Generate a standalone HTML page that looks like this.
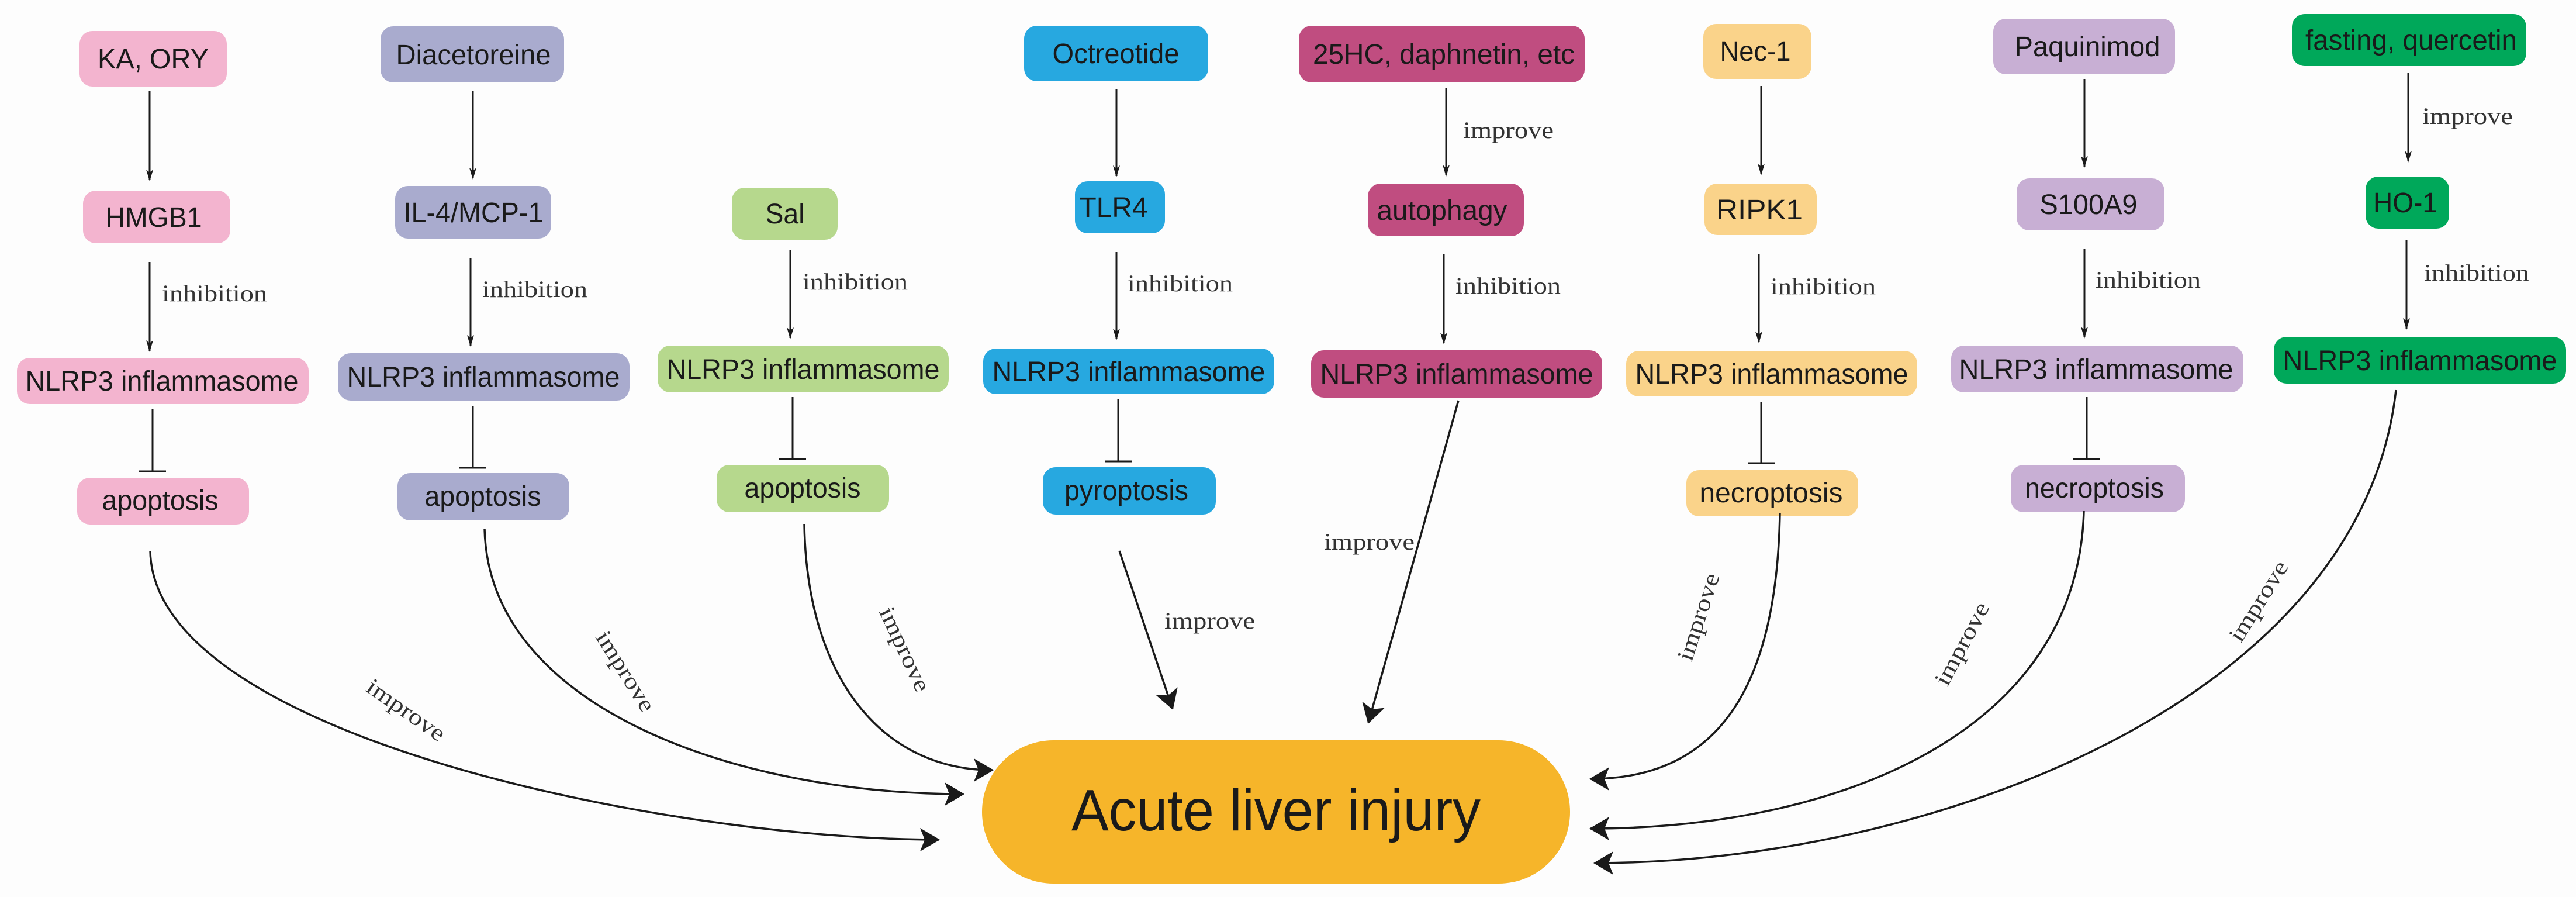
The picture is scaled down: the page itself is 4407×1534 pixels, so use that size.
<!DOCTYPE html>
<html><head><meta charset="utf-8"><style>
html,body{margin:0;padding:0;background:#fff;}
svg{display:block;}
.n{font-family:"Liberation Sans",Arial,sans-serif;font-size:48px;fill:#1a1a1a;text-anchor:middle;}
.l{font-family:"Liberation Serif",serif;font-size:40px;fill:#333;}
.ln{stroke:#1a1a1a;stroke-width:3;fill:none;}
.cv{stroke:#1a1a1a;stroke-width:3.5;fill:none;}
</style></head><body>
<svg width="4407" height="1534" viewBox="0 0 4407 1534" xmlns="http://www.w3.org/2000/svg">
<defs>
<marker id="a" markerUnits="userSpaceOnUse" markerWidth="20" markerHeight="30" refX="18" refY="7" orient="auto" viewBox="0 0 20 14">
<path d="M0,1 L20,7 L0,13 L5,7 Z" fill="#1a1a1a"/></marker>
<marker id="b" markerUnits="userSpaceOnUse" markerWidth="34" markerHeight="40" refX="32" refY="20" orient="auto" viewBox="0 0 34 40">
<path d="M0,0 L34,20 L0,40 L8,20 Z" fill="#1a1a1a"/></marker>
</defs>
<rect width="4407" height="1534" fill="#fdfdfd"/>

<!-- column 1 pink -->
<rect x="136" y="53" width="252" height="95" rx="22" fill="#f3b4cf"/>
<text class="n" x="262" y="117" textLength="190" lengthAdjust="spacingAndGlyphs">KA, ORY</text>
<rect x="142" y="326" width="252" height="90" rx="22" fill="#f3b4cf"/>
<text class="n" x="263" y="388" textLength="165" lengthAdjust="spacingAndGlyphs">HMGB1</text>
<rect x="29" y="612" width="499" height="79" rx="22" fill="#f3b4cf"/>
<text class="n" x="277" y="668" textLength="467" lengthAdjust="spacingAndGlyphs">NLRP3 inflammasome</text>
<rect x="132" y="817" width="294" height="80" rx="22" fill="#f3b4cf"/>
<text class="n" x="274" y="872" textLength="199" lengthAdjust="spacingAndGlyphs">apoptosis</text>
<line class="ln" x1="256" y1="155" x2="256" y2="308" marker-end="url(#a)"/>
<line class="ln" x1="256" y1="448" x2="256" y2="600" marker-end="url(#a)"/>
<text class="l" x="277" y="515" textLength="180" lengthAdjust="spacingAndGlyphs">inhibition</text>
<line class="ln" x1="261" y1="700" x2="261" y2="806"/><line class="ln" x1="238" y1="806" x2="284" y2="806" stroke-width="4"/>

<!-- column 2 purple -->
<rect x="651" y="45" width="314" height="96" rx="22" fill="#a9abce"/>
<text class="n" x="810" y="110" textLength="265" lengthAdjust="spacingAndGlyphs">Diacetoreine</text>
<rect x="676" y="318" width="267" height="90" rx="22" fill="#a9abce"/>
<text class="n" x="810" y="380" textLength="239" lengthAdjust="spacingAndGlyphs">IL-4/MCP-1</text>
<rect x="578" y="604" width="499" height="81" rx="22" fill="#a9abce"/>
<text class="n" x="827" y="661" textLength="467" lengthAdjust="spacingAndGlyphs">NLRP3 inflammasome</text>
<rect x="680" y="809" width="294" height="81" rx="22" fill="#a9abce"/>
<text class="n" x="826" y="865" textLength="199" lengthAdjust="spacingAndGlyphs">apoptosis</text>
<line class="ln" x1="809" y1="155" x2="809" y2="305" marker-end="url(#a)"/>
<line class="ln" x1="805" y1="441" x2="805" y2="591" marker-end="url(#a)"/>
<text class="l" x="825" y="508" textLength="180" lengthAdjust="spacingAndGlyphs">inhibition</text>
<line class="ln" x1="809" y1="694" x2="809" y2="800"/><line class="ln" x1="786" y1="800" x2="832" y2="800" stroke-width="4"/>

<!-- column 3 green -->
<rect x="1252" y="321" width="181" height="89" rx="22" fill="#b6d88d"/>
<text class="n" x="1343" y="382" textLength="67" lengthAdjust="spacingAndGlyphs">Sal</text>
<rect x="1125" y="591" width="498" height="80" rx="22" fill="#b6d88d"/>
<text class="n" x="1374" y="648" textLength="467" lengthAdjust="spacingAndGlyphs">NLRP3 inflammasome</text>
<rect x="1226" y="795" width="295" height="81" rx="22" fill="#b6d88d"/>
<text class="n" x="1373" y="851" textLength="199" lengthAdjust="spacingAndGlyphs">apoptosis</text>
<line class="ln" x1="1352" y1="427" x2="1352" y2="578" marker-end="url(#a)"/>
<text class="l" x="1373" y="495" textLength="180" lengthAdjust="spacingAndGlyphs">inhibition</text>
<line class="ln" x1="1356" y1="679" x2="1356" y2="785" stroke-width="4.5"/><line class="ln" x1="1333" y1="785" x2="1379" y2="785" stroke-width="4.5"/>

<!-- column 4 blue -->
<rect x="1752" y="44" width="315" height="95" rx="22" fill="#27a8e0"/>
<text class="n" x="1909" y="108" textLength="217" lengthAdjust="spacingAndGlyphs">Octreotide</text>
<rect x="1839" y="310" width="154" height="89" rx="22" fill="#27a8e0"/>
<text class="n" x="1905" y="371" textLength="117" lengthAdjust="spacingAndGlyphs">TLR4</text>
<rect x="1682" y="596" width="498" height="78" rx="22" fill="#27a8e0"/>
<text class="n" x="1931" y="652" textLength="467" lengthAdjust="spacingAndGlyphs">NLRP3 inflammasome</text>
<rect x="1784" y="799" width="296" height="81" rx="22" fill="#27a8e0"/>
<text class="n" x="1927" y="855" textLength="212" lengthAdjust="spacingAndGlyphs">pyroptosis</text>
<line class="ln" x1="1910" y1="153" x2="1910" y2="301" marker-end="url(#a)"/>
<line class="ln" x1="1910" y1="431" x2="1910" y2="580" marker-end="url(#a)"/>
<text class="l" x="1929" y="498" textLength="180" lengthAdjust="spacingAndGlyphs">inhibition</text>
<line class="ln" x1="1913" y1="683" x2="1913" y2="789"/><line class="ln" x1="1890" y1="789" x2="1936" y2="789" stroke-width="4"/>

<!-- column 5 magenta -->
<rect x="2222" y="44" width="489" height="97" rx="22" fill="#c04d80"/>
<text class="n" x="2470" y="109" textLength="448" lengthAdjust="spacingAndGlyphs">25HC, daphnetin, etc</text>
<rect x="2340" y="314" width="267" height="90" rx="22" fill="#c04d80"/>
<text class="n" x="2467" y="376" textLength="223" lengthAdjust="spacingAndGlyphs">autophagy</text>
<rect x="2243" y="599" width="498" height="81" rx="22" fill="#c04d80"/>
<text class="n" x="2492" y="656" textLength="467" lengthAdjust="spacingAndGlyphs">NLRP3 inflammasome</text>
<line class="ln" x1="2474" y1="150" x2="2474" y2="300" marker-end="url(#a)"/>
<text class="l" x="2503" y="236" textLength="155" lengthAdjust="spacingAndGlyphs">improve</text>
<line class="ln" x1="2470" y1="435" x2="2470" y2="587" marker-end="url(#a)"/>
<text class="l" x="2490" y="502" textLength="180" lengthAdjust="spacingAndGlyphs">inhibition</text>

<!-- column 6 orange -->
<rect x="2914" y="41" width="185" height="94" rx="22" fill="#fad38a"/>
<text class="n" x="3003" y="104" textLength="121" lengthAdjust="spacingAndGlyphs">Nec-1</text>
<rect x="2916" y="314" width="192" height="88" rx="22" fill="#fad38a"/>
<text class="n" x="3010" y="375" textLength="148" lengthAdjust="spacingAndGlyphs">RIPK1</text>
<rect x="2782" y="600" width="498" height="78" rx="22" fill="#fad38a"/>
<text class="n" x="3031" y="656" textLength="467" lengthAdjust="spacingAndGlyphs">NLRP3 inflammasome</text>
<rect x="2885" y="804" width="294" height="79" rx="22" fill="#fad38a"/>
<text class="n" x="3030" y="859" textLength="245" lengthAdjust="spacingAndGlyphs">necroptosis</text>
<line class="ln" x1="3013" y1="147" x2="3013" y2="298" marker-end="url(#a)"/>
<line class="ln" x1="3009" y1="434" x2="3009" y2="585" marker-end="url(#a)"/>
<text class="l" x="3029" y="503" textLength="180" lengthAdjust="spacingAndGlyphs">inhibition</text>
<line class="ln" x1="3013" y1="687" x2="3013" y2="792"/><line class="ln" x1="2990" y1="792" x2="3036" y2="792" stroke-width="4"/>

<!-- column 7 lilac -->
<rect x="3410" y="32" width="311" height="95" rx="22" fill="#c8afd4"/>
<text class="n" x="3571" y="96" textLength="249" lengthAdjust="spacingAndGlyphs">Paquinimod</text>
<rect x="3450" y="305" width="253" height="89" rx="22" fill="#c8afd4"/>
<text class="n" x="3573" y="366" textLength="167" lengthAdjust="spacingAndGlyphs">S100A9</text>
<rect x="3338" y="591" width="500" height="80" rx="22" fill="#c8afd4"/>
<text class="n" x="3586" y="648" textLength="469" lengthAdjust="spacingAndGlyphs">NLRP3 inflammasome</text>
<rect x="3440" y="795" width="298" height="81" rx="22" fill="#c8afd4"/>
<text class="n" x="3583" y="851" textLength="238" lengthAdjust="spacingAndGlyphs">necroptosis</text>
<line class="ln" x1="3566" y1="135" x2="3566" y2="285" marker-end="url(#a)"/>
<line class="ln" x1="3566" y1="426" x2="3566" y2="577" marker-end="url(#a)"/>
<text class="l" x="3585" y="492" textLength="180" lengthAdjust="spacingAndGlyphs">inhibition</text>
<line class="ln" x1="3570" y1="679" x2="3570" y2="785"/><line class="ln" x1="3547" y1="785" x2="3593" y2="785" stroke-width="4"/>

<!-- column 8 dark green -->
<rect x="3921" y="24" width="401" height="89" rx="22" fill="#00a85a"/>
<text class="n" x="4125" y="85" textLength="362" lengthAdjust="spacingAndGlyphs">fasting, quercetin</text>
<rect x="4047" y="302" width="143" height="89" rx="22" fill="#00a85a"/>
<text class="n" x="4115" y="363" textLength="110" lengthAdjust="spacingAndGlyphs">HO-1</text>
<rect x="3890" y="576" width="500" height="80" rx="22" fill="#00a85a"/>
<text class="n" x="4140" y="633" textLength="469" lengthAdjust="spacingAndGlyphs">NLRP3 inflammasome</text>
<line class="ln" x1="4120" y1="124" x2="4120" y2="276" marker-end="url(#a)"/>
<text class="l" x="4144" y="212" textLength="155" lengthAdjust="spacingAndGlyphs">improve</text>
<line class="ln" x1="4117" y1="411" x2="4117" y2="562" marker-end="url(#a)"/>
<text class="l" x="4147" y="480" textLength="180" lengthAdjust="spacingAndGlyphs">inhibition</text>

<!-- Acute liver injury -->
<rect x="1680" y="1266" width="1006" height="245" rx="122" fill="#f6b52a"/>
<text x="2183" y="1420" font-family="Liberation Sans, Arial, sans-serif" font-size="100" fill="#1a1a1a" text-anchor="middle" textLength="700" lengthAdjust="spacingAndGlyphs">Acute liver injury</text>

<!-- curves -->
<path class="cv" d="M257,942 C262,1260 1150,1436 1606,1436" marker-end="url(#b)"/>
<path class="cv" d="M829,904 C835,1210 1260,1358 1648,1358" marker-end="url(#b)"/>
<path class="cv" d="M1376,896 C1380,1160 1510,1317 1698,1317" marker-end="url(#b)"/>
<path class="cv" d="M1915,942 L2006,1212" marker-end="url(#b)"/>
<path class="cv" d="M2495,685 L2341,1236" marker-end="url(#b)"/>
<path class="cv" d="M3045,878 C3040,1160 2950,1332 2721,1332" marker-end="url(#b)"/>
<path class="cv" d="M3565,874 C3555,1250 3150,1417 2721,1417" marker-end="url(#b)"/>
<path class="cv" d="M4099,667 C4040,1200 3300,1476 2728,1476" marker-end="url(#b)"/>

<text class="l" text-anchor="middle" textLength="155" lengthAdjust="spacingAndGlyphs" transform="translate(687,1225) rotate(35)">improve</text>
<text class="l" text-anchor="middle" textLength="155" lengthAdjust="spacingAndGlyphs" transform="translate(1059,1155) rotate(58)">improve</text>
<text class="l" text-anchor="middle" textLength="155" lengthAdjust="spacingAndGlyphs" transform="translate(1536,1116) rotate(65)">improve</text>
<text class="l" x="1992" y="1075" textLength="155" lengthAdjust="spacingAndGlyphs">improve</text>
<text class="l" x="2265" y="940" textLength="155" lengthAdjust="spacingAndGlyphs">improve</text>
<text class="l" text-anchor="middle" textLength="155" lengthAdjust="spacingAndGlyphs" transform="translate(2918,1059) rotate(-72)">improve</text>
<text class="l" text-anchor="middle" textLength="155" lengthAdjust="spacingAndGlyphs" transform="translate(3368,1107) rotate(-62)">improve</text>
<text class="l" text-anchor="middle" textLength="155" lengthAdjust="spacingAndGlyphs" transform="translate(3875,1035) rotate(-58)">improve</text>
</svg>
</body></html>
